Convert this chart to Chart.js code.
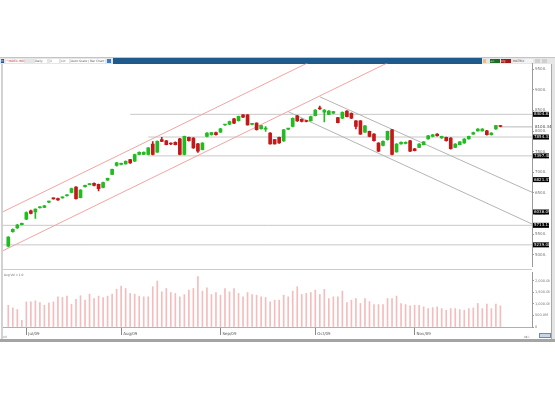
<!DOCTYPE html>
<html>
<head>
<meta charset="utf-8">
<script src="https://cdn.jsdelivr.net/npm/chart.js@4.4.1/dist/chart.umd.min.js"></script>
<style>
  body { margin: 0; width: 555px; height: 400px; background: #fff; position: relative; overflow: hidden; font-family: "DejaVu Sans", sans-serif; }
  .abs { position: absolute; }
  #topLine { left: 0; top: 57px; width: 555px; height: 1px; background: #c4c4c4; }
  #toolbar { left: 0; top: 58px; width: 113px; height: 6px; background: #e6e6e6; }
  #toolbar span { position: absolute; top: 1px; height: 4px; font-size: 3px; line-height: 4px; background: #fff; color: #555; }
  #titleBar { left: 113px; top: 58px; width: 369px; height: 6px; background: #1e5b8c; }
  #controls { left: 482px; top: 58px; width: 73px; height: 6px; background: #e6e6e6; }
  #controls span { position: absolute; top: 1px; height: 4px; font-size: 3px; line-height: 4px; color: #fff; }
  #leftBorder { left: 1px; top: 64px; width: 2px; height: 275px; background: #d2d2d2; }
  #rightBorder { left: 551px; top: 64px; width: 4px; height: 275px; background: #e4e4e4; border-left: 1px solid #a8a8a8; }
  #panelSep { left: 3px; top: 269px; width: 529px; height: 1px; background: #c6d0c6; }
  #bottomBar { left: 0; top: 339px; width: 555px; height: 3px; background: #a4a4a4; }
  #avgVol { left: 4px; top: 273px; font-size: 3px; color: #666; }
  #cornerL { left: 3px; top: 335px; font-size: 3px; color: #666; }
  #cornerR { left: 524px; top: 335px; font-size: 3px; color: #666; }
  #cornerIcon { left: 539px; top: 333px; width: 12px; height: 5px; background: #c9d6ea; border: 1px solid #6d89b6; box-sizing: border-box; }
  canvas { position: absolute; left: 0; }
  #priceChart { top: 60px; }
  #volumeChart { top: 268px; }
</style>
</head>
<body>
<div id="topLine" class="abs"></div>
<div id="toolbar" class="abs">
  <span style="left:1px;width:3px;background:#2a4f9a;color:#fff">H</span>
  <span style="left:6px;width:18px;color:#c03030">^INDEX.IND</span>
  <span style="left:35px;width:12px">Daily</span>
  <span style="left:50px;width:9px">1</span>
  <span style="left:61px;width:8px">Lin</span>
  <span style="left:71px;width:34px">Auto Scale | Bar Chart</span>
  <span style="left:107px;width:4px;background:#3a7bd5"></span>
</div>
<div id="titleBar" class="abs"></div>
<div id="controls" class="abs">
  <span style="left:1px;width:3px;background:#e8c080"></span>
  <span style="left:8px;width:10px;background:#1f6b2a">+/-</span>
  <span style="left:19px;width:10px;background:#a01818">x/y</span>
  <span style="left:31px;width:20px;background:#f4f4f4;color:#444">MATRIX</span>
  <span style="left:53px;width:5px;background:#d0d0d0"></span>
  <span style="left:60px;width:5px;background:#d0d0d0"></span>
</div>
<div id="leftBorder" class="abs"></div>
<div id="rightBorder" class="abs"></div>
<canvas id="priceChart" width="555" height="210"></canvas>
<div id="panelSep" class="abs"></div>
<canvas id="volumeChart" width="555" height="74"></canvas>
<div id="avgVol" class="abs">Avg Vol x 1.0</div>
<div id="bottomBar" class="abs"></div>
<div id="cornerL" class="abs">x/l</div>
<div id="cornerR" class="abs">ok.i</div>
<div id="cornerIcon" class="abs"></div>
<script>
// daily candles, index 0..109
const opens = [5210,5560,5650,5730,5865,6065,6040,6140,6145,6275,6370,6360,6380,6430,6510,6640,6385,6650,6700,6730,
  6705,6630,6810,6950,7165,7190,7205,7305,7270,7430,7435,7430,7685,7490,7790,7765,7700,7725,7810,7430,
  7845,7830,7690,7550,7870,7910,7965,7975,8145,8165,8295,8250,8390,8390,8160,8190,8055,8045,7950,7790,
  7845,7760,8045,8110,8370,8285,8250,8250,8375,8565,8460,8405,8430,8325,8310,8485,8430,8245,8245,7975,
  7990,7925,7710,7650,7790,8030,7495,7690,7700,7765,7570,7605,7670,7810,7870,7925,7830,7845,7830,7605,
  7670,7710,7810,7925,8005,8005,8005,7910,8050,8130];
const closes = [5425,5615,5720,5760,6025,6000,6105,6155,6185,6290,6355,6330,6395,6450,6605,6360,6570,6680,6710,6680,
  6600,6750,6850,7070,7230,7210,7265,7225,7430,7485,7485,7590,7430,7750,7750,7670,7685,7670,7430,7870,
  7765,7590,7510,7710,7950,7960,7910,8055,8155,8230,8190,8355,8335,8150,8170,8030,8130,8060,7690,7690,
  7710,8030,8055,8310,8245,8230,8230,8350,8510,8535,8510,8485,8470,8205,8455,8350,8310,8110,7925,8125,
  7870,7765,7510,7750,7990,7430,7685,7725,7725,7510,7525,7685,7735,7885,7910,7885,7870,7765,7570,7685,
  7735,7805,7870,7965,8050,8050,7910,7950,8130,8110];
const highs = [5440,5630,5735,5770,6040,6080,6115,6165,6195,6300,6380,6375,6405,6460,6615,6650,6580,6690,6720,6745,
  6715,6760,6860,7080,7240,7225,7275,7315,7440,7495,7495,7600,7745,7760,7845,7775,7715,7735,7820,7880,
  7855,7840,7700,7720,7960,7970,7975,8065,8165,8240,8305,8365,8400,8400,8180,8200,8140,8110,7960,7800,
  7855,8040,8065,8320,8380,8295,8260,8360,8520,8605,8520,8495,8480,8335,8465,8495,8440,8255,8255,8135,
  8000,7935,7720,7760,8000,8040,7695,7735,7735,7775,7580,7695,7745,7895,7920,7935,7880,7855,7840,7695,
  7745,7815,7880,7975,8060,8060,8015,7960,8140,8140];
const lows = [5190,5545,5640,5720,5850,5990,5880,6130,6140,6265,6345,6320,6370,6420,6500,6350,6375,6640,6690,6670,
  6545,6620,6800,6940,7150,7180,7195,7215,7260,7420,7425,7420,7420,7480,7740,7660,7670,7660,7420,7420,
  7755,7580,7480,7540,7860,7900,7900,7965,8135,8155,8180,8240,8325,8140,8150,8020,8045,7990,7680,7680,
  7700,7750,8035,8100,8235,8220,8220,8240,8365,8525,8220,8395,8420,8195,8300,8340,8300,8050,7915,7965,
  7860,7755,7500,7640,7780,7420,7485,7680,7690,7500,7515,7595,7660,7800,7860,7875,7820,7755,7560,7595,
  7660,7700,7800,7915,7995,7995,7900,7900,8040,8100];
// volume in millions
const volumes = [940,825,755,290,1085,1085,1130,1060,940,1045,1085,1305,1275,1335,985,1190,1350,1160,1420,1230,
  1335,1275,1335,1420,1635,1770,1665,1450,1420,1335,1305,1305,1740,1985,1520,1665,1490,1450,1305,1400,
  1595,1665,2175,1550,1695,1405,1490,1375,1665,1520,1665,1450,1305,1490,1405,1375,1305,1275,1085,1160,
  1160,1375,1305,1550,1740,1405,1450,1490,1595,1405,1625,1230,1305,1305,1550,1060,1160,1230,1015,1230,
  1100,970,970,970,1230,1230,1335,1015,970,915,940,940,870,795,840,870,795,725,795,795,
  755,725,795,825,1015,795,985,795,985,915];

const priceTicks = [5000, 5500, 6000, 6500, 7000, 7500, 8000, 8500, 9000, 9500];
const volumeTicks = [0, 500, 1000, 1500, 2000];
const volumeTickLabels = ["0", "500.0M", "1,000.0M", "1,500.0M", "2,000.0M"];
const monthTicks = [4, 25, 47, 68, 90];
const monthLabels = ["Jul/09", "Aug/09", "Sep/09", "Oct/09", "Nov/09"];

// drawn studies: [index, price] endpoints
const upChannelTop = [[-1.2, 6040], [70, 9850]];
const upChannelBottom = [[-1.2, 5095], [90, 9975]];
const downChannelTop = [[69, 8830], [116, 6515]];
const downChannelBottom = [[62, 8470], [116, 5745]];
const levelValues = [8404.83, 7854.33, 7397.48, 5713.11, 5239.08];
const levelStarts = [27, 31, 31, -1.2, -1.2];
const boxValues = [8404.83, 7854.33, 7397.48, 6821.47, 6036.09, 5713.11, 5239.08];
const lastPrice = 8100.34;

const xMin = -1.17, xMax = 116;
const green = "#22bb22", red = "#c21a1a";
const candleColors = opens.map((o, i) => closes[i] >= o ? green : red);

const lineDs = (pts, color) => ({
  type: "line",
  data: pts.map(p => ({ x: p[0], y: p[1] })),
  borderColor: color,
  borderWidth: 1,
  pointRadius: 0,
  order: 5
});

const priceBoxes = {
  id: "priceBoxes",
  afterDraw(chart) {
    const { ctx, scales: { y } } = chart;
    ctx.save();
    ctx.font = "4px 'DejaVu Sans'";
    ctx.textBaseline = "middle";
    boxValues.forEach(v => {
      const py = y.getPixelForValue(v);
      ctx.fillStyle = "#000";
      ctx.fillRect(533, py - 2.5, 16, 5);
      ctx.fillStyle = "#fff";
      ctx.fillText(v.toFixed(2), 534, py);
    });
    ctx.fillStyle = "#444";
    ctx.fillText(lastPrice.toFixed(2), 535, y.getPixelForValue(lastPrice));
    ctx.restore();
  }
};

const priceDatasets = [
  {
    type: "bar",
    data: opens.map((o, i) => ({ x: i, y: [o, closes[i]] })),
    backgroundColor: candleColors,
    barThickness: 3,
    minBarLength: 1,
    grouped: false,
    order: 0
  },
  {
    type: "bar",
    data: lows.map((l, i) => ({ x: i, y: [l, highs[i]] })),
    backgroundColor: candleColors,
    barThickness: 1,
    grouped: false,
    order: 1
  },
  lineDs(upChannelTop, "#f2a4a4"),
  lineDs(upChannelBottom, "#f2a4a4"),
  lineDs(downChannelTop, "#b4b4b4"),
  lineDs(downChannelBottom, "#b4b4b4"),
  ...levelValues.map((v, k) => lineDs([[levelStarts[k], v], [xMax, v]], "#c8c8c8")),
  lineDs([[109, lastPrice], [xMax, lastPrice]], "#b8b8b8")
];

new Chart(document.getElementById("priceChart"), {
  data: { datasets: priceDatasets },
  options: {
    responsive: false,
    animation: false,
    layout: { padding: { left: 3, right: 5, top: 3, bottom: 2 } },
    plugins: { legend: { display: false }, tooltip: { enabled: false } },
    scales: {
      x: { type: "linear", min: xMin, max: xMax, offset: false, display: false },
      y: {
        position: "right",
        min: 4712,
        max: 9640,
        afterBuildTicks: s => { s.ticks = priceTicks.map(v => ({ value: v })); },
        afterFit: s => { s.width = 18; },
        ticks: { font: { size: 4, family: "DejaVu Sans" }, color: "#777", padding: 1, callback: v => v + "." },
        grid: { drawOnChartArea: false, tickLength: 2, color: "#999" },
        border: { color: "#9a9a9a" }
      }
    }
  },
  plugins: [priceBoxes]
});

new Chart(document.getElementById("volumeChart"), {
  type: "bar",
  data: {
    datasets: [{
      data: volumes.map((v, i) => ({ x: i, y: v })),
      backgroundColor: "#f4bcbc",
      barThickness: 1,
      grouped: false
    }]
  },
  options: {
    responsive: false,
    animation: false,
    layout: { padding: { left: 3, right: 5, top: 4, bottom: 3 } },
    plugins: { legend: { display: false }, tooltip: { enabled: false } },
    scales: {
      x: {
        type: "linear",
        min: xMin,
        max: xMax,
        offset: false,
        afterBuildTicks: s => { s.ticks = monthTicks.map(v => ({ value: v })); },
        afterFit: s => { s.height = 12; },
        ticks: {
          font: { size: 4, family: "DejaVu Sans" },
          color: "#555",
          align: "start",
          maxRotation: 0,
          padding: -3,
          labelOffset: 2,
          callback: (v, i) => monthLabels[i]
        },
        grid: { drawOnChartArea: false, offset: false, tickLength: 8, color: "#888" },
        border: { color: "#b0b0b0" }
      },
      y: {
        position: "right",
        min: 0,
        max: 2376,
        afterBuildTicks: s => { s.ticks = volumeTicks.map(v => ({ value: v })); },
        afterFit: s => { s.width = 18; },
        ticks: { font: { size: 3.5, family: "DejaVu Sans" }, color: "#777", padding: 1, callback: (v, i) => volumeTickLabels[i] },
        grid: { drawOnChartArea: false, tickLength: 2, color: "#999" },
        border: { color: "#9a9a9a" }
      }
    }
  }
});
</script>
</body>
</html>
